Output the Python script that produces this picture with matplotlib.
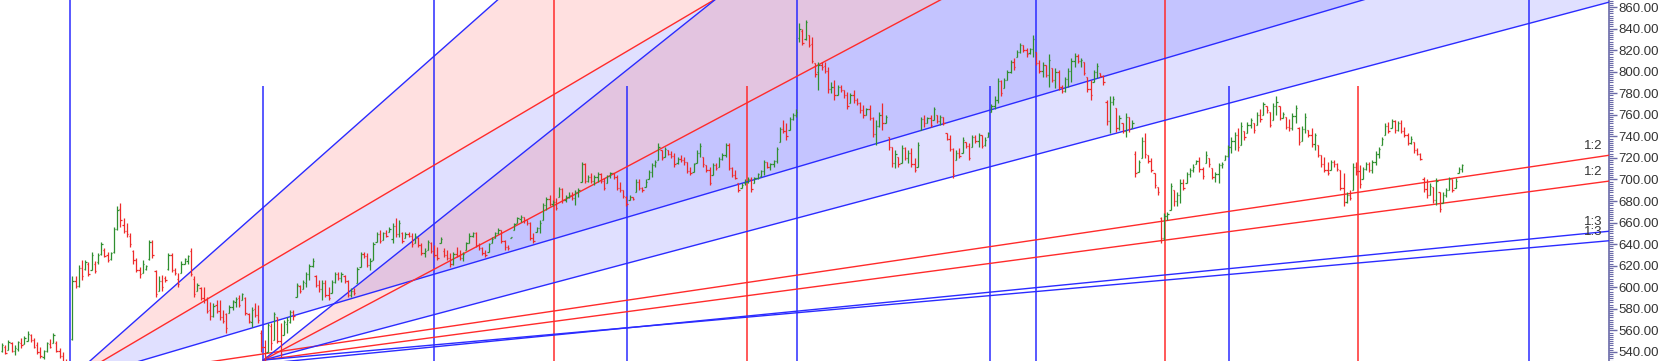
import matplotlib
matplotlib.use("Agg")
import numpy as np
import matplotlib.pyplot as plt
from matplotlib.ticker import MultipleLocator, FormatStrFormatter

# --- price bars ------------------------------------------------------------
OPENS = [
    541, 545, 542, 548, 541, 543, 548, 547, 550,
    556, 551, 546, 540, 535, 541, 547, 548, 548,
    541, 536, 528, 516, 552, 606, 601, 618, 617, 622,
    616, 622, 623, 631, 635, 630, 626, 633,
    654, 673, 658, 652, 648, 634, 625, 616, 613,
    617, 626, 642, 615, 597, 606, 609, 617,
    630, 616, 608, 613, 622, 624, 634, 608,
    597, 599, 590, 588, 579, 573, 584, 578, 572,
    575, 576, 582, 586, 590, 588, 590, 575, 568,
    580, 574, 558, 545, 540, 564, 551, 572, 550,
    556, 566, 568, 577, 591, 601, 598, 604, 612,
    620, 610, 602, 598, 604, 593, 595, 605, 612, 609,
    610, 606, 593, 597, 604, 619, 631, 629, 621, 625,
    642, 649, 644, 650, 651, 645, 657, 649, 650,
    646, 649, 648, 641, 646, 639, 632, 635, 641, 634,
    630, 641, 634, 630, 627, 622, 631, 629, 627,
    635, 641, 648, 650, 639, 636, 632, 633, 641, 646, 650, 653, 643, 637, 646, 653, 660, 663, 665, 662,
    660, 646, 651, 655, 662, 676, 682, 677, 679, 684, 691, 681, 684, 686, 683, 688, 698, 714, 699, 702,
    699, 702, 705, 699, 697, 703, 706, 702, 692, 690, 684, 681, 684, 688, 698, 692, 693, 700, 707, 713,
    718, 727, 721, 727, 724, 722, 715, 719, 718, 716, 708, 707, 715, 725, 721, 713, 709, 704, 713, 712,
    719, 723, 732, 711, 704, 697, 692, 697, 698, 700, 697, 701, 703, 708, 716, 712, 714, 717, 735, 747,
    745, 746, 756, 760, 831, 838, 830, 834, 826, 808, 800, 806, 805, 801, 784, 786, 778, 786, 783, 778,
    771, 778, 774, 771, 764, 760, 765, 757, 742, 750, 760, 752, 739, 730, 715, 721, 715, 729, 720, 725,
    714, 712, 746, 756, 752, 757, 755, 760, 754, 758, 743, 738, 728, 718, 725, 725, 735, 731, 730, 739,
    736, 741, 732, 739, 763, 768, 774, 791, 785, 792, 800, 809, 814, 818, 825, 820, 817, 821, 818, 808,
    801, 806, 797, 803, 792, 800, 786, 782, 793, 801, 810, 815, 810, 809, 795, 784, 790, 800, 799, 796,
    772, 754, 772, 766, 748, 752, 745, 758, 748, 724, 707, 720, 736, 723, 717, 706, 693, 664, 646, 666,
    672, 690, 680, 686, 697, 697, 705, 709, 714, 717, 710, 715, 720, 711, 702, 705, 713, 718, 722, 730, 736,
    741, 732, 745, 743, 751, 752, 751, 760, 760, 768, 763, 755, 768, 768, 757, 758, 749, 748, 759, 748,
    736, 747, 746, 741, 733, 732, 723, 714, 709, 709, 716, 714, 709, 692, 679, 686, 690, 712, 708, 700, 710,
    714, 709, 716, 724, 732, 741, 750, 748, 754, 746, 752, 745, 741, 734, 735, 727, 724, 700, 691, 686,
    693, 681, 688, 678, 686, 690, 700, 692, 706, 710,
]
HIGHS = [
    548, 546, 551, 549, 546, 550, 553, 555, 559,
    557, 553, 549, 545, 542, 549, 552, 558, 550,
    544, 540, 533, 530, 610, 610, 621, 625, 625, 623,
    633, 624, 632, 642, 636, 633, 633, 656,
    675, 678, 664, 660, 650, 635, 627, 619, 625,
    621, 644, 644, 616, 610, 611, 610, 632,
    632, 618, 613, 624, 627, 630, 636, 610,
    604, 600, 600, 591, 586, 585, 588, 588, 579,
    576, 584, 588, 591, 593, 595, 591, 576, 582,
    585, 584, 560, 551, 567, 567, 577, 572, 567,
    570, 572, 579, 579, 604, 602, 607, 614, 622,
    627, 611, 607, 607, 607, 600, 607, 614, 614, 614,
    611, 607, 599, 599, 619, 633, 633, 632, 627, 642,
    651, 653, 651, 653, 656, 660, 664, 662, 651,
    651, 651, 650, 650, 647, 641, 636, 644, 642, 639,
    637, 647, 636, 635, 632, 633, 637, 635, 633,
    642, 650, 651, 651, 641, 637, 635, 641, 647, 651, 655, 653, 644, 639, 647, 660, 665, 667, 665, 662,
    661, 650, 656, 662, 678, 684, 686, 681, 683, 693, 692, 686, 688, 688, 690, 692, 716, 715, 704, 706,
    704, 707, 706, 701, 704, 707, 706, 704, 698, 690, 685, 686, 684, 700, 700, 693, 700, 709, 715, 718,
    734, 727, 730, 727, 726, 725, 721, 723, 721, 716, 712, 715, 727, 734, 721, 713, 712, 715, 715, 721,
    725, 734, 734, 712, 709, 697, 697, 700, 702, 702, 702, 706, 709, 718, 716, 715, 718, 730, 749, 755,
    752, 758, 762, 765, 845, 840, 848, 834, 832, 808, 809, 809, 809, 804, 790, 792, 788, 788, 783, 781,
    780, 783, 776, 772, 769, 766, 769, 758, 755, 763, 771, 760, 739, 730, 727, 721, 732, 730, 727, 729,
    720, 735, 758, 760, 758, 760, 767, 760, 760, 758, 743, 741, 729, 727, 729, 739, 735, 734, 741, 741,
    743, 741, 739, 744, 770, 777, 794, 792, 794, 802, 811, 813, 820, 827, 825, 822, 822, 834, 818, 811,
    809, 806, 816, 803, 803, 802, 788, 795, 803, 813, 817, 816, 813, 809, 795, 792, 802, 808, 799, 797,
    774, 777, 777, 766, 760, 752, 762, 758, 755, 726, 718, 739, 743, 723, 720, 706, 693, 665, 669, 670,
    697, 690, 688, 700, 700, 707, 711, 714, 718, 721, 712, 726, 720, 711, 707, 715, 716, 723, 732, 739, 744,
    748, 753, 745, 753, 757, 752, 763, 765, 772, 768, 763, 771, 777, 768, 763, 758, 756, 762, 769, 749,
    750, 762, 746, 748, 743, 732, 723, 721, 716, 718, 718, 715, 709, 706, 688, 690, 715, 716, 713, 712, 716,
    716, 718, 726, 730, 739, 752, 753, 756, 755, 754, 755, 749, 743, 740, 735, 729, 725, 702, 700, 697,
    693, 701, 688, 688, 692, 702, 700, 701, 712, 714,
]
LOWS = [
    540, 538, 542, 540, 537, 541, 544, 547, 550,
    549, 544, 538, 534, 533, 540, 544, 548, 540,
    534, 526, 514, 511, 551, 599, 600, 607, 616, 610,
    616, 613, 622, 630, 628, 623, 625, 632,
    653, 656, 650, 647, 637, 622, 614, 609, 613,
    616, 625, 627, 591, 597, 597, 605, 616,
    614, 611, 600, 613, 622, 622, 610, 591,
    597, 588, 585, 576, 570, 572, 576, 570, 567,
    558, 576, 579, 582, 582, 588, 574, 567, 563,
    572, 567, 540, 532, 540, 542, 551, 548, 535,
    556, 558, 567, 570, 591, 595, 598, 600, 607,
    619, 600, 596, 588, 591, 588, 595, 604, 607, 605,
    604, 591, 591, 593, 604, 619, 627, 619, 616, 625,
    642, 641, 644, 647, 651, 641, 647, 647, 641,
    646, 647, 637, 641, 637, 630, 628, 635, 632, 628,
    625, 641, 628, 625, 619, 621, 628, 625, 624,
    635, 641, 647, 637, 635, 630, 628, 633, 641, 646, 649, 641, 635, 635, 646, 653, 660, 661, 660, 658,
    644, 641, 651, 650, 662, 672, 675, 675, 672, 684, 678, 679, 683, 681, 676, 684, 698, 697, 698, 697,
    695, 698, 697, 690, 697, 701, 700, 690, 688, 683, 675, 681, 681, 688, 690, 688, 693, 700, 702, 712,
    718, 718, 721, 723, 720, 712, 714, 716, 713, 706, 704, 707, 715, 721, 712, 707, 695, 704, 709, 712,
    718, 721, 709, 702, 700, 688, 692, 695, 697, 688, 697, 700, 702, 704, 711, 709, 712, 715, 735, 743,
    737, 746, 755, 758, 828, 825, 829, 823, 808, 795, 783, 802, 799, 780, 780, 774, 778, 781, 776, 765,
    771, 771, 769, 762, 757, 760, 755, 739, 732, 749, 746, 752, 727, 712, 711, 712, 715, 718, 715, 712,
    707, 712, 746, 749, 752, 749, 755, 752, 751, 751, 737, 726, 701, 718, 720, 725, 729, 718, 730, 734,
    730, 729, 731, 739, 763, 765, 771, 777, 785, 792, 799, 802, 814, 817, 818, 814, 816, 814, 806, 799,
    795, 795, 786, 790, 785, 783, 780, 781, 786, 790, 804, 808, 804, 797, 781, 774, 790, 794, 795, 788,
    751, 743, 769, 744, 746, 743, 739, 744, 748, 702, 707, 720, 720, 715, 707, 692, 686, 641, 644, 662,
    672, 675, 675, 678, 690, 697, 702, 707, 714, 707, 700, 715, 712, 700, 698, 697, 711, 718, 721, 725, 727,
    726, 732, 737, 743, 748, 743, 751, 753, 760, 762, 749, 755, 760, 755, 757, 747, 745, 746, 752, 732,
    736, 743, 739, 730, 727, 721, 712, 707, 704, 709, 712, 708, 690, 675, 678, 681, 690, 704, 692, 700, 709,
    707, 706, 713, 720, 732, 741, 743, 748, 743, 745, 743, 739, 732, 733, 725, 723, 718, 688, 683, 686,
    678, 676, 670, 678, 684, 690, 688, 692, 706, 707,
]
CLOSES = [
    546, 539, 549, 541, 544, 549, 546, 553, 557,
    551, 545, 540, 536, 541, 548, 545, 556, 541,
    536, 528, 518, 527, 606, 601, 618, 610, 623, 612,
    630, 615, 630, 640, 629, 625, 632, 654,
    672, 662, 652, 649, 640, 625, 616, 612, 622,
    620, 642, 630, 594, 606, 600, 607, 630,
    616, 613, 603, 622, 626, 629, 612, 594,
    602, 590, 588, 578, 573, 583, 578, 572, 569,
    562, 582, 587, 589, 584, 594, 576, 569, 579,
    574, 570, 545, 536, 565, 548, 575, 550, 538,
    568, 570, 577, 573, 602, 597, 605, 612, 620,
    624, 602, 598, 604, 593, 590, 605, 612, 609, 612,
    606, 593, 597, 595, 617, 631, 629, 621, 624, 640,
    649, 643, 650, 648, 654, 657, 649, 660, 643,
    649, 648, 640, 648, 639, 632, 634, 642, 634, 630,
    627, 645, 630, 627, 622, 631, 629, 627, 631,
    641, 648, 650, 639, 636, 632, 630, 640, 645, 650, 653, 643, 637, 636, 647, 659, 664, 665, 662, 660,
    646, 643, 655, 660, 676, 682, 677, 679, 674, 691, 681, 684, 686, 683, 688, 690, 714, 699, 702, 699,
    702, 705, 699, 692, 703, 706, 702, 692, 690, 685, 677, 684, 682, 698, 692, 690, 698, 707, 713, 716,
    730, 720, 728, 724, 722, 714, 719, 718, 716, 708, 706, 714, 725, 731, 714, 709, 697, 713, 711, 719,
    723, 732, 711, 704, 701, 690, 695, 698, 700, 691, 701, 705, 708, 716, 712, 714, 717, 728, 747, 745,
    740, 756, 760, 763, 840, 827, 846, 825, 810, 798, 806, 804, 801, 784, 786, 778, 786, 783, 778, 768,
    778, 774, 771, 764, 760, 765, 757, 742, 750, 760, 752, 758, 730, 715, 724, 714, 729, 720, 725, 714,
    709, 732, 756, 752, 757, 751, 765, 754, 758, 752, 738, 728, 705, 725, 722, 737, 731, 720, 739, 736,
    741, 731, 737, 743, 768, 774, 791, 780, 792, 800, 809, 804, 818, 825, 820, 816, 821, 830, 808, 801,
    806, 797, 811, 792, 800, 786, 782, 793, 801, 810, 815, 810, 811, 799, 784, 778, 800, 805, 796, 790,
    754, 772, 775, 748, 757, 745, 758, 747, 752, 706, 716, 736, 724, 717, 709, 695, 688, 646, 666, 668,
    694, 680, 686, 697, 692, 705, 709, 712, 717, 710, 703, 723, 714, 702, 705, 713, 714, 722, 730, 736, 741,
    730, 750, 739, 751, 755, 746, 760, 756, 770, 764, 751, 768, 772, 757, 761, 749, 748, 759, 766, 735,
    747, 758, 741, 733, 741, 723, 714, 709, 706, 716, 714, 710, 692, 679, 686, 683, 712, 708, 696, 710, 714,
    709, 716, 724, 728, 738, 750, 745, 754, 746, 752, 745, 741, 734, 738, 727, 724, 719, 691, 686, 694,
    681, 699, 673, 686, 690, 700, 690, 699, 710, 713,
]

# --- Gann time cycles: calendar days counted from two swing lows -------------
CYCLE_ORIGINS = [17.3, 64.9]
CYCLE_DAYS = [0, 89.8, 119.4, 179.4, 238.3, 270.1, 360.0]
CYCLE_COLORS = ["blue", "blue", "red", "blue", "blue", "red", "blue"]
CYCLE_TOP = [None, 786.7]   # second set starts below the top

# --- Gann fans ---------------------------------------------------------------
FAN_DAYS = [16.0, 65.0]
FAN_PRICES = [511.0, 532.5]
FAN_UNITS = [1.11, 1.0]           # price per day of the 1:1 line
FAN_RATIOS = [3, 2, 1, 1 / 2, 1 / 3]
FAN_NAMES = ["3:1", "2:1", "1:1", "1:2", "1:3"]
FAN_COLORS = ["blue", "red", "blue", "red", "blue"]

# --- style / layout ----------------------------------------------------------
BLUE = "#2b2bff"
RED = "#ff2b2b"
UP = "#2f8f2f"
DOWN = "#ee2a2a"
AXIS = "#6a6aa8"
TXT = "#333333"
PX_PER_DAY = 4.053
BAR0_PX, BARN_PX = 2, 1462
XMAX = 1609 / PX_PER_DAY
YMIN, YMAX = 531.6, 866.5

plt.rcParams["font.family"] = ["Liberation Sans", "DejaVu Sans"]

fig = plt.figure(figsize=(16.61, 3.61), dpi=100)
ax = fig.add_axes([0, 0, 1609 / 1661, 1])
ax.set_xlim(0, XMAX)
ax.set_ylim(YMIN, YMAX)

cmap = {"blue": BLUE, "red": RED}

# fans: fills first, then lines
for d0, p0, unit in zip(FAN_DAYS, FAN_PRICES, FAN_UNITS):
    xs = np.array([d0, XMAX])
    lines = [p0 + unit * r * (xs - d0) for r in FAN_RATIOS]
    ax.fill_between(xs, lines[1], lines[0], color="red", alpha=0.12, lw=0, zorder=1)
    ax.fill_between(xs, lines[2], lines[1], color="blue", alpha=0.12, lw=0, zorder=1)
    for ys, name, c in zip(lines, FAN_NAMES, FAN_COLORS):
        ax.plot(xs, ys, color=cmap[c], lw=1.0, zorder=3)
        if YMIN < ys[-1] < YMAX - 15:   # only lines that leave through the price axis
            ax.annotate(name, xy=(XMAX, ys[-1]), xytext=(-7, 3),
                        textcoords="offset pixels", ha="right", va="bottom",
                        fontsize=9.5, color=TXT, zorder=6)

# time cycles
for d0, top in zip(CYCLE_ORIGINS, CYCLE_TOP):
    for off, c in zip(CYCLE_DAYS, CYCLE_COLORS):
        ax.vlines(d0 + off, YMIN, top if top else YMAX, color=cmap[c], lw=1.1, zorder=2)

# OHLC bars
o, h, l, c = map(np.array, (OPENS, HIGHS, LOWS, CLOSES))
n = len(c)
x = (BAR0_PX + np.arange(n) * (BARN_PX - BAR0_PX) / (n - 1)) / PX_PER_DAY
cols = np.where(c >= o, UP, DOWN)
tick = 1.3 / PX_PER_DAY
ax.vlines(x, l, h, colors=cols, lw=0.9, zorder=4)
ax.hlines(o, x - tick, x, colors=cols, lw=0.9, zorder=4)
ax.hlines(c, x, x + tick, colors=cols, lw=0.9, zorder=4)

# axis
for s in ("left", "top", "bottom"):
    ax.spines[s].set_visible(False)
ax.spines["right"].set_color(AXIS)
ax.spines["right"].set_linewidth(1.2)
ax.set_xticks([])
ax.yaxis.tick_right()
ax.yaxis.set_major_locator(MultipleLocator(20))
ax.yaxis.set_minor_locator(MultipleLocator(2))
ax.yaxis.set_major_formatter(FormatStrFormatter("%.2f"))
ax.tick_params(axis="y", which="major", length=6, width=1, color=AXIS,
               labelsize=9.5, labelcolor=TXT, pad=1)
ax.tick_params(axis="y", which="minor", length=3, width=0.8, color=AXIS)

fig.savefig("out.png", dpi=100)
